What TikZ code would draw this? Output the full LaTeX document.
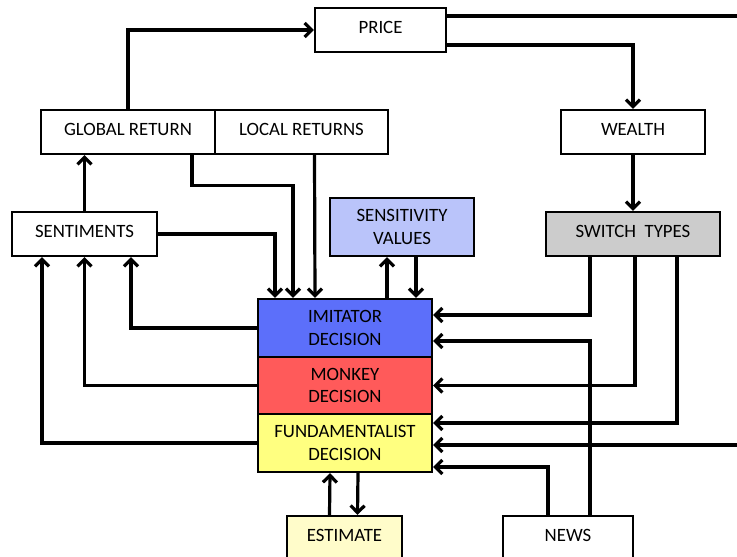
\documentclass[tikz,border=0pt]{standalone}
\usepackage{fontspec}
\setmainfont{Carlito}
\usetikzlibrary{arrows.meta}
\definecolor{imitblue}{RGB}{92,111,250}
\definecolor{monkred}{RGB}{255,90,90}
\definecolor{fundyellow}{RGB}{255,255,128}
\definecolor{sensblue}{RGB}{186,196,250}
\definecolor{switchgray}{RGB}{204,204,204}
\definecolor{estyellow}{RGB}{255,252,202}
\begin{document}
\begin{tikzpicture}[x=1pt,y=-1pt,
  box/.style={draw=black, line width=2.3pt, fill=white, inner sep=0pt,
    align=center, font=\fontsize{18.8}{22.8}\selectfont},
  oneline/.style={text depth=5pt},
  arr/.style={line width=3.2pt, -{Straight Barb[length=7pt,width=14pt]}}]
\useasboundingbox (0,0) rectangle (737,557);
\clip (0,0) rectangle (737,557);

% boxes
\node[box, oneline, minimum width=131pt, minimum height=44pt] (price) at (380.5,30) {PRICE};
\node[box, oneline, minimum width=174pt, minimum height=44pt] (glob) at (128,132) {GLOBAL RETURN};
\node[box, oneline, minimum width=173pt, minimum height=44pt] (loc) at (301.5,132) {LOCAL RETURNS};
\node[box, oneline, minimum width=144pt, minimum height=44pt] (wealth) at (633,132) {WEALTH};
\node[box, oneline, minimum width=145pt, minimum height=44pt] (sent) at (84.5,234) {SENTIMENTS};
\node[box, fill=sensblue, minimum width=144pt, minimum height=58pt] (sens) at (402,227) {SENSITIVITY\\VALUES};
\node[box, oneline, fill=switchgray, minimum width=174pt, minimum height=44pt] (switch) at (633,234) {SWITCH~~TYPES};
\node[box, fill=imitblue, minimum width=174pt, minimum height=58pt] (imit) at (345,328) {IMITATOR\\DECISION};
\node[box, fill=monkred, minimum width=174pt, minimum height=57pt] (monk) at (345,385.5) {MONKEY\\DECISION};
\node[box, fill=fundyellow, minimum width=174pt, minimum height=58pt] (fund) at (345,443) {FUNDAMENTALIST\\DECISION};
\node[box, oneline, fill=estyellow, minimum width=115pt, minimum height=44pt] (est) at (344.5,538) {ESTIMATE};
\node[box, oneline, minimum width=130pt, minimum height=44pt] (news) at (568,538) {NEWS};

% price loop
\draw[arr] (glob.north) |- (price.west);
\draw[arr] ([yshift=-15pt]price.east) -| (wealth.north);
\draw[arr] ([yshift=14pt]price.east) -- (770,16) |- ([yshift=-2pt]fund.east);
\draw[arr] (wealth.south) -- (switch.north);

% switching into the decisions
\draw[arr] ([xshift=-43pt]switch.south) |- ([yshift=13pt]imit.east);
\draw[arr] ([xshift=2pt]switch.south) |- (monk.east);
\draw[arr] ([xshift=44pt]switch.south) |- ([yshift=20pt]fund.east);

% news
\draw[arr] ([xshift=22pt]news.north) |- ([yshift=-13pt]imit.east);
\draw[arr] ([xshift=-20pt]news.north) |- ([yshift=-24pt]fund.east);

% estimate
\draw[arr] ([xshift=-15pt]est.north) -- ([xshift=-15pt]fund.south);
\draw[arr] ([xshift=13pt]fund.south) -- ([xshift=13pt]est.north);

% sensitivity
\draw[arr] ([xshift=42pt]imit.north) -- ([xshift=-15pt]sens.south);
\draw[arr] ([xshift=14pt]sens.south) -- ([xshift=71pt]imit.north);

% inputs of the imitator
\draw[arr] (sent.east) -| ([xshift=-70pt]imit.north);
\draw[arr] ([xshift=64pt]glob.south) -- ++(0,30) -| ([xshift=-52pt]imit.north);
\draw[arr] ([xshift=13pt]loc.south) -- ([xshift=-30pt]imit.north);

% sentiments
\draw[arr] (sent.north) -- (sent.north |- glob.south);
\draw[arr] (imit.west) -| ([xshift=46.5pt]sent.south);
\draw[arr] (monk.west) -| (sent.south);
\draw[arr] (fund.west) -| ([xshift=-42.5pt]sent.south);
\end{tikzpicture}
\end{document}
